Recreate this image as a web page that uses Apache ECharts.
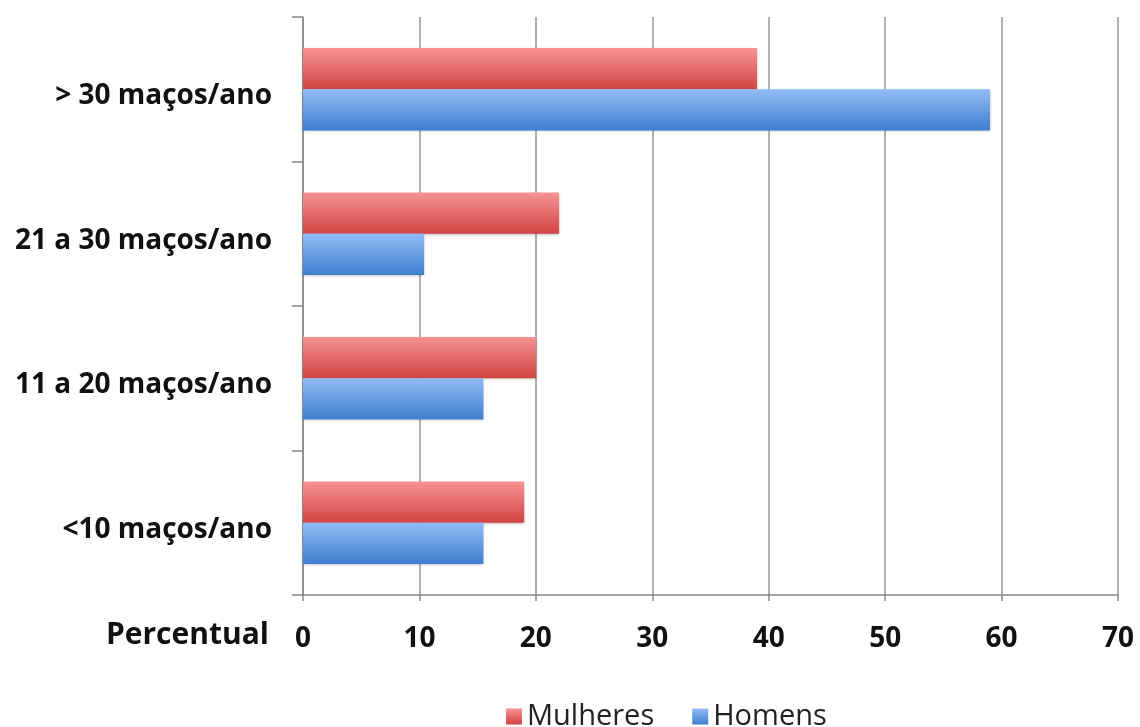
<!DOCTYPE html>
<html>
<head>
<meta charset="utf-8">
<script src="https://cdn.jsdelivr.net/npm/echarts@6/dist/echarts.min.js"></script>
<style>
    html, body { margin: 0; padding: 0; background: #fff; }
    #chart { width: 1140px; height: 727px; }
</style>
</head>
<body>
<div id="chart"></div>
<script>
// 数据
const categories = ['<10 maços/ano', '11 a 20 maços/ano', '21 a 30 maços/ano', '> 30 maços/ano'];
const mulheres = [19, 20, 22, 39];
const homens = [15.5, 15.5, 10.4, 59];
const xTicks = [0, 10, 20, 30, 40, 50, 60, 70];

function grad(top, bottom) {
    return new echarts.graphic.LinearGradient(0, 0, 0, 1, [
        { offset: 0, color: top },
        { offset: 1, color: bottom }
    ]);
}

const chart = echarts.init(document.getElementById('chart'));
const font = '"Open Sans", "DejaVu Sans", sans-serif';

const option = {
    animation: false,
    textStyle: { fontFamily: font },
    grid: { left: 303, right: 22, top: 17, bottom: 132 },
    legend: {
        data: ['Mulheres', 'Homens'],
        left: 501,
        top: 697,
        itemWidth: 16,
        itemHeight: 16,
        itemGap: 38,
        icon: 'rect',
        textStyle: { fontSize: 29, color: '#222', fontFamily: font }
    },
    graphic: [{
        type: 'text',
        right: 1140 - 269,
        top: 620,
        style: { text: 'Percentual', font: 'bold 30px ' + font, fill: '#111' }
    }],
    xAxis: {
        type: 'value',
        min: 0,
        max: 70,
        interval: 10,
        axisLine: { show: true, lineStyle: { color: '#888', width: 1.5 } },
        axisTick: { show: true, length: 6, lineStyle: { color: '#888', width: 1.5 } },
        splitLine: { show: true, lineStyle: { color: '#999', width: 1.5 } },
        axisLabel: {
            margin: 30,
            fontSize: 28,
            fontWeight: 'bold',
            color: '#111',
            formatter: v => xTicks.includes(v) ? String(v) : ''
        }
    },
    yAxis: {
        type: 'category',
        data: categories,
        axisLine: { show: true, lineStyle: { color: '#888', width: 1.5 } },
        axisTick: { show: true, length: 11, lineStyle: { color: '#888', width: 1.5 } },
        axisLabel: {
            margin: 31,
            formatter: v => '{c|' + v + '}',
            rich: {
                c: { fontSize: 28, fontWeight: 'bold', color: '#111', fontFamily: font, padding: [14, 0, 0, 0] }
            }
        }
    },
    series: [
        {
            name: 'Mulheres',
            type: 'bar',
            data: mulheres,
            barGap: '0%',
            barCategoryGap: '43%',
            itemStyle: {
                color: grad('#f79393', '#d24444'),
                shadowBlur: 3,
                shadowColor: 'rgba(0,0,0,0.3)',
                shadowOffsetY: 1
            }
        },
        {
            name: 'Homens',
            type: 'bar',
            data: homens,
            barGap: '0%',
            barCategoryGap: '43%',
            itemStyle: {
                color: grad('#92bbf7', '#3f7ecf'),
                shadowBlur: 3,
                shadowColor: 'rgba(0,0,0,0.3)',
                shadowOffsetY: 1
            }
        }
    ]
};
chart.setOption(option);
</script>
</body>
</html>
